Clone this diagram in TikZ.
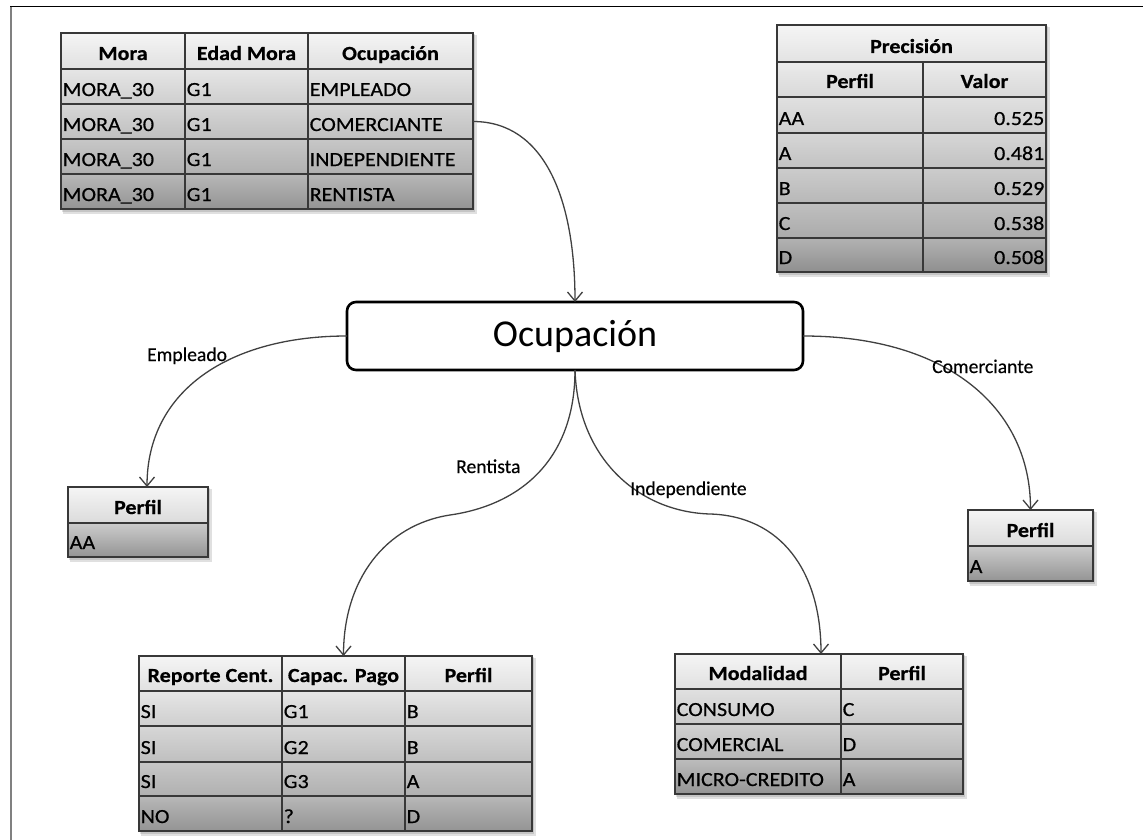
\documentclass[tikz,border=0pt]{standalone}
\usepackage{fontspec}
\setmainfont{Carlito}
\newfontfamily\tabfont[FakeStretch=1.1,FakeBold=0.6]{Carlito}
\newfontfamily\lblfont[FakeBold=0.4]{Carlito}
\usetikzlibrary{arrows.meta}
\tikzset{
  cellsty/.style={draw=black!78, line width=1.4pt, inner sep=0pt, outer sep=0pt},
  txt/.style={inner sep=0pt, font=\tabfont\fontsize{20}{24}\selectfont},
  hdr/.style={inner sep=0pt, font=\tabfont\bfseries\fontsize{20}{24}\selectfont},
  lbl/.style={inner sep=0pt, font=\lblfont\fontsize{19.6}{22}\selectfont},
  conn/.style={draw=black!75, line width=1.3pt, -{Straight Barb[length=9pt,width=15pt]}},
  shadowsty/.style={fill=black, opacity=0.12},
}
\newcommand\cellbox[7]{%
  \pgfmathsetmacro\cw{#4-#2}\pgfmathsetmacro\ch{#5-#3}%
  \node[cellsty, minimum width=\cw pt, minimum height=\ch pt, top color=black!#6, bottom color=black!#7] (#1) at ({(#2+#4)/2},{(#3+#5)/2}) {};}
\newcommand\txL[2]{\node[txt, anchor=base west] (#1t) at ([xshift=1.5pt,yshift=8pt]#1.south west) {#2};}
\newcommand\txR[2]{\node[txt, anchor=base east] (#1t) at ([xshift=-1.5pt,yshift=8pt]#1.south east) {#2};}
\newcommand\txH[2]{\node[hdr, anchor=base] (#1t) at ([yshift=9pt]#1.south) {#2};}
\newcommand\tshadow[4]{%
  \fill[shadowsty] ({#1+2},{#2+2}) rectangle ({#3+4},{#4+5});
  \fill[shadowsty] ({#1+1},{#2+1}) rectangle ({#3+2},{#4+3});}
\begin{document}
\begin{tikzpicture}[x=1pt,y=-1pt]
\useasboundingbox (0,0) rectangle (1143,840);
% frame
\draw[black, line width=1pt] (10,7) -- (1143,7);
\draw[black!50, line width=2pt] (11,7) -- (11,840);

% ---------- Table 1 ----------
\tshadow{61}{33}{473}{209}
\cellbox{a01}{61}{33}{185}{69}{4}{12}
\cellbox{a02}{185}{33}{308}{69}{4}{12}
\cellbox{a03}{308}{33}{473}{69}{4}{12}
\cellbox{a11}{61}{69}{185}{104}{10}{19}
\cellbox{a12}{185}{69}{308}{104}{10}{19}
\cellbox{a13}{308}{69}{473}{104}{10}{19}
\cellbox{a21}{61}{104}{185}{139}{16}{25}
\cellbox{a22}{185}{104}{308}{139}{16}{25}
\cellbox{a23}{308}{104}{473}{139}{16}{25}
\cellbox{a31}{61}{139}{185}{174}{22}{31}
\cellbox{a32}{185}{139}{308}{174}{22}{31}
\cellbox{a33}{308}{139}{473}{174}{22}{31}
\cellbox{a41}{61}{174}{185}{209}{28}{42}
\cellbox{a42}{185}{174}{308}{209}{28}{42}
\cellbox{a43}{308}{174}{473}{209}{28}{42}
\txH{a01}{Mora}\txH{a02}{Edad Mora}\txH{a03}{Ocupación}
\txL{a11}{MORA\_30}\txL{a12}{G1}\txL{a13}{EMPLEADO}
\txL{a21}{MORA\_30}\txL{a22}{G1}\txL{a23}{COMERCIANTE}
\txL{a31}{MORA\_30}\txL{a32}{G1}\txL{a33}{INDEPENDIENTE}
\txL{a41}{MORA\_30}\txL{a42}{G1}\txL{a43}{RENTISTA}

% ---------- Table 2 (Precision) ----------
\tshadow{777}{25}{1046}{272}
\cellbox{p0}{777}{25}{1046}{62}{4}{11}
\cellbox{p11}{777}{62}{923}{97}{8}{15}
\cellbox{p12}{923}{62}{1046}{97}{8}{15}
\cellbox{p21}{777}{97}{923}{133}{12}{19}
\cellbox{p22}{923}{97}{1046}{133}{12}{19}
\cellbox{p31}{777}{133}{923}{168}{16}{24}
\cellbox{p32}{923}{133}{1046}{168}{16}{24}
\cellbox{p41}{777}{168}{923}{203}{20}{28}
\cellbox{p42}{923}{168}{1046}{203}{20}{28}
\cellbox{p51}{777}{203}{923}{238}{25}{33}
\cellbox{p52}{923}{203}{1046}{238}{25}{33}
\cellbox{p61}{777}{238}{923}{272}{30}{44}
\cellbox{p62}{923}{238}{1046}{272}{30}{44}
\txH{p0}{Precisión}
\txH{p11}{Perfil}\txH{p12}{Valor}
\txL{p21}{AA}\txR{p22}{0.525}
\txL{p31}{A}\txR{p32}{0.481}
\txL{p41}{B}\txR{p42}{0.529}
\txL{p51}{C}\txR{p52}{0.538}
\txL{p61}{D}\txR{p62}{0.508}

% ---------- Table 3 (Perfil AA) ----------
\tshadow{68}{487}{208}{557}
\cellbox{e0}{68}{487}{208}{523}{4}{14}
\cellbox{e1}{68}{523}{208}{557}{20}{42}
\txH{e0}{Perfil}\txL{e1}{AA}

% ---------- Table 4 (Perfil A) ----------
\tshadow{968}{510}{1093}{581}
\cellbox{c0}{968}{510}{1093}{546}{4}{14}
\cellbox{c1}{968}{546}{1093}{581}{20}{42}
\txH{c0}{Perfil}\txL{c1}{A}

% ---------- Table 5 (Reporte) ----------
\tshadow{139}{656}{532}{831}
\cellbox{r01}{139}{656}{282}{691}{4}{12}
\cellbox{r02}{282}{656}{405}{691}{4}{12}
\cellbox{r03}{405}{656}{532}{691}{4}{12}
\cellbox{r11}{139}{691}{282}{726}{10}{19}
\cellbox{r12}{282}{691}{405}{726}{10}{19}
\cellbox{r13}{405}{691}{532}{726}{10}{19}
\cellbox{r21}{139}{726}{282}{762}{16}{25}
\cellbox{r22}{282}{726}{405}{762}{16}{25}
\cellbox{r23}{405}{726}{532}{762}{16}{25}
\cellbox{r31}{139}{762}{282}{796}{22}{31}
\cellbox{r32}{282}{762}{405}{796}{22}{31}
\cellbox{r33}{405}{762}{532}{796}{22}{31}
\cellbox{r41}{139}{796}{282}{831}{28}{42}
\cellbox{r42}{282}{796}{405}{831}{28}{42}
\cellbox{r43}{405}{796}{532}{831}{28}{42}
\txH{r01}{Reporte Cent.}\txH{r02}{Capac. Pago}\txH{r03}{Perfil}
\txL{r11}{SI}\txL{r12}{G1}\txL{r13}{B}
\txL{r21}{SI}\txL{r22}{G2}\txL{r23}{B}
\txL{r31}{SI}\txL{r32}{G3}\txL{r33}{A}
\txL{r41}{NO}\txL{r42}{?}\txL{r43}{D}

% ---------- Table 6 (Modalidad) ----------
\tshadow{675}{654}{963}{794}
\cellbox{m01}{675}{654}{841}{689}{4}{12}
\cellbox{m02}{841}{654}{963}{689}{4}{12}
\cellbox{m11}{675}{689}{841}{724}{12}{21}
\cellbox{m12}{841}{689}{963}{724}{12}{21}
\cellbox{m21}{675}{724}{841}{759}{18}{28}
\cellbox{m22}{841}{724}{963}{759}{18}{28}
\cellbox{m31}{675}{759}{841}{794}{26}{42}
\cellbox{m32}{841}{759}{963}{794}{26}{42}
\txH{m01}{Modalidad}\txH{m02}{Perfil}
\txL{m11}{CONSUMO}\txL{m12}{C}
\txL{m21}{COMERCIAL}\txL{m22}{D}
\txL{m31}{MICRO-CREDITO}\txL{m32}{A}

% ---------- central node ----------
\node[draw=black, line width=2.6pt, rounded corners=9pt, minimum width=456pt, minimum height=68pt,
      inner sep=0pt, outer sep=0pt, font=\fontsize{38}{44}\selectfont] (occ) at (575,336) {Ocupación};

% ---------- connectors ----------
\draw[conn] (a23.east) .. controls +(72,0) and +(0,-102) .. (occ.north);
\draw[conn] (occ.west) .. controls +(-117,0) and +(0,-97) .. ([xshift=9pt]e0.north);
\draw[conn] (occ.east) .. controls +(147,0) and +(0,-100) .. (c0.north);
\coordinate (rb) at (450,515);
\draw[conn] (occ.south) .. controls +(0,90) and (520,505) .. (rb) .. controls (385,525) and +(0,-76) .. (r02.north);
\coordinate (ib) at (710,514);
\draw[conn] (occ.south) .. controls +(3,90) and (640,512) .. (ib) .. controls (780,516) and +(0,-84) .. ([xshift=-20pt]m01.north east);

% ---------- labels ----------
\node[lbl, anchor=base west] (lemp) at (147,361) {Empleado};
\node[lbl, anchor=base west] (lren) at (456,473) {Rentista};
\node[lbl, anchor=base west] (lind) at (630,495) {Independiente};
\node[lbl, anchor=base west] (lcom) at (932,373) {Comerciante};
\end{tikzpicture}
\end{document}
